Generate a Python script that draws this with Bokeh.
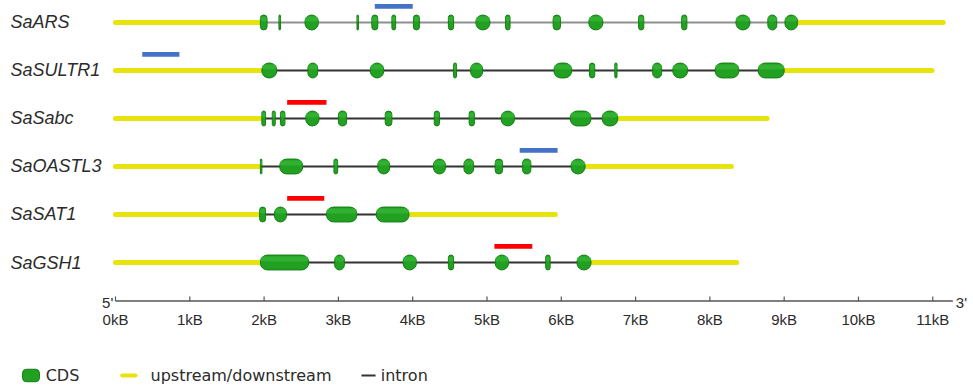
from bokeh.plotting import figure
from bokeh.models import Range1d, ColumnDataSource
from bokeh.core.properties import value
from bokeh.embed import file_html
from bokeh.resources import INLINE

# ---------------- data (kB) ----------------
genes = ["SaARS", "SaSULTR1", "SaSabc", "SaOASTL3", "SaSAT1", "SaGSH1"]
gene_end = [11.14, 10.99, 8.77, 8.29, 5.92, 8.36]

exon_start_SaARS = [1.95, 2.20, 2.55, 3.25, 3.45, 3.72, 4.01, 4.48, 4.85, 5.25, 5.89, 6.37, 7.04, 7.62, 8.35, 8.78, 9.01]
exon_end_SaARS   = [2.04, 2.22, 2.73, 3.27, 3.53, 3.77, 4.09, 4.55, 5.04, 5.31, 5.99, 6.56, 7.11, 7.69, 8.54, 8.90, 9.18]
exon_start_SaSULTR1 = [1.97, 2.59, 3.43, 4.55, 4.78, 5.90, 6.38, 6.72, 7.23, 7.50, 8.07, 8.65]
exon_end_SaSULTR1   = [2.17, 2.72, 3.61, 4.59, 4.94, 6.14, 6.45, 6.75, 7.35, 7.70, 8.39, 9.00]
exon_start_SaSabc = [1.97, 2.11, 2.22, 2.56, 3.00, 3.63, 4.29, 4.76, 5.19, 6.12, 6.55]
exon_end_SaSabc   = [2.02, 2.15, 2.28, 2.74, 3.11, 3.72, 4.36, 4.83, 5.37, 6.40, 6.76]
exon_start_SaOASTL3 = [1.95, 2.21, 2.94, 3.53, 4.28, 4.69, 5.11, 5.48, 6.13]
exon_end_SaOASTL3   = [1.97, 2.52, 2.99, 3.69, 4.44, 4.82, 5.21, 5.59, 6.32]
exon_start_SaSAT1 = [1.94, 2.14, 2.84, 3.51]
exon_end_SaSAT1   = [2.02, 2.30, 3.25, 3.95]
exon_start_SaGSH1 = [1.95, 2.95, 3.87, 4.48, 5.11, 5.79, 6.21]
exon_end_SaGSH1   = [2.60, 3.08, 4.05, 4.55, 5.29, 5.85, 6.40]

exon_starts = [exon_start_SaARS, exon_start_SaSULTR1, exon_start_SaSabc,
               exon_start_SaOASTL3, exon_start_SaSAT1, exon_start_SaGSH1]
exon_ends = [exon_end_SaARS, exon_end_SaSULTR1, exon_end_SaSabc,
             exon_end_SaOASTL3, exon_end_SaSAT1, exon_end_SaGSH1]

# marked regions above genes
mark_start = [3.49, 0.36, 2.31, 5.44, 2.31, 5.10]
mark_end   = [4.00, 0.86, 2.84, 5.95, 2.81, 5.61]
mark_kind  = ["blue", "blue", "red", "blue", "red", "red"]

ticks = list(range(12))
tick_labels = [f"{t}kB" for t in ticks]
legend_labels = ["CDS", "upstream/downstream", "intron"]

# ---------------- styles ----------------
YELLOW = "#e6e40a"
GREEN = "#22a022"
GREEN_DARK = "#137f13"
INTRON = "#333333"
INTRON_ARS = "#8f8f8f"
MARK_COLORS = {"blue": "#4472c4", "red": "#ff0000"}
TXT = "#2b2b2b"
FONT = value("Liberation Sans")
FONT_WIDE = value("DejaVu Sans")

p = figure(width=973, height=387, x_range=Range1d(-1.548, 11.548),
           y_range=Range1d(7.604, -0.458), output_backend="svg",
           toolbar_location=None, min_border=0)
p.axis.visible = False
p.grid.visible = False
p.outline_line_color = None

EXON_H = 0.31

for i, g in enumerate(genes):
    s, e = exon_starts[i], exon_ends[i]
    first, last = s[0], e[-1]
    # up/downstream
    p.segment(x0=[0, last], y0=[i, i], x1=[first, gene_end[i]], y1=[i, i],
              line_color=YELLOW, line_width=5, line_cap="round")
    # intron
    p.segment(x0=[first], y0=[i], x1=[last], y1=[i],
              line_color=INTRON_ARS if i == 0 else INTRON, line_width=2)
    # exons
    src = ColumnDataSource(dict(left=s, right=e, top=[i - EXON_H / 2] * len(s),
                                bottom=[i + EXON_H / 2] * len(s)))
    p.quad(left="left", right="right", top="top", bottom="bottom", source=src,
           fill_color=GREEN, line_color=GREEN_DARK, line_width=1, border_radius=7)
    # highlight
    src2 = ColumnDataSource(dict(left=s, right=e, top=[i - EXON_H / 2 + 0.03] * len(s),
                                 bottom=[i - 0.02] * len(s)))
    p.quad(left="left", right="right", top="top", bottom="bottom", source=src2,
           fill_color="#3dbb3d", fill_alpha=0.6, line_color=None, border_radius=5)
    # marks
    p.quad(left=[mark_start[i]], right=[mark_end[i]], top=[i - 0.385], bottom=[i - 0.285],
           fill_color=MARK_COLORS[mark_kind[i]], line_color=None)

# gene labels
p.text(x=[-1.413] * len(genes), y=list(range(len(genes))), text=genes,
       text_font=FONT, text_font_style="italic", text_font_size="18px",
       text_color=TXT, text_baseline="middle", text_align="left")

# scale axis
AX_Y = 5.80
p.segment(x0=[0], y0=[AX_Y], x1=[11.27], y1=[AX_Y], line_color="#555555", line_width=1.5)
p.segment(x0=ticks, y0=[AX_Y] * len(ticks), x1=ticks, y1=[AX_Y - 0.09] * len(ticks),
          line_color="#555555", line_width=1.2)
p.text(x=ticks, y=[6.19] * len(ticks), text=tick_labels, text_font=FONT,
       text_font_size="15px", text_color=TXT, text_align="center", text_baseline="middle")
p.text(x=[-0.03], y=[AX_Y + 0.04], text=["5'"], text_font=FONT, text_font_size="15px",
       text_color=TXT, text_align="right", text_baseline="alphabetic")
p.text(x=[11.31], y=[AX_Y + 0.04], text=["3'"], text_font=FONT, text_font_size="15px",
       text_color=TXT, text_align="left", text_baseline="alphabetic")

# legend
LY = 7.354
p.quad(left=[-1.252], right=[-1.023], top=[LY - 0.13], bottom=[LY + 0.13],
       fill_color=GREEN, line_color=GREEN_DARK, border_radius=4)
p.segment(x0=[0.09], y0=[LY], x1=[0.27], y1=[LY], line_color=YELLOW, line_width=4, line_cap="round")
p.segment(x0=[3.31], y0=[LY], x1=[3.50], y1=[LY], line_color=INTRON, line_width=2)
p.text(x=[-0.94, 0.471, 3.57], y=[LY] * 3, text=legend_labels, text_font=FONT_WIDE,
       text_font_size="16px", text_color=TXT, text_align="left", text_baseline="middle")

open("out.html", "w").write(file_html(p, INLINE))
